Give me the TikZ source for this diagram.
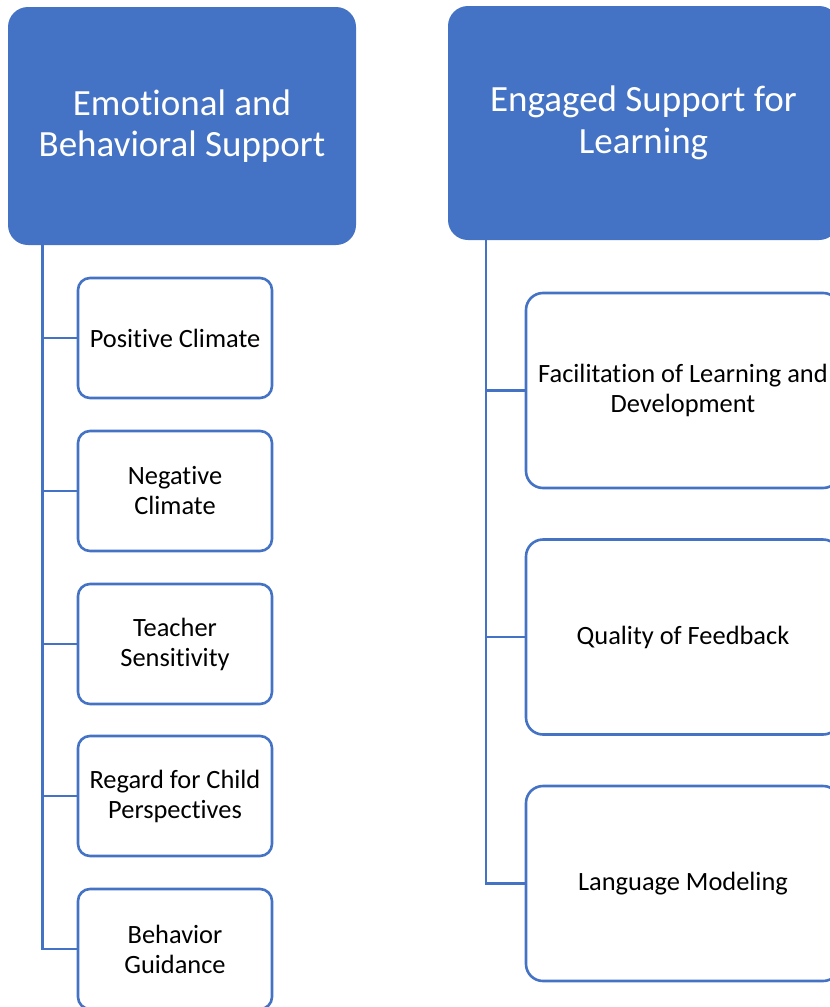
\documentclass[tikz,border=0pt]{standalone}
\usepackage{fontspec}
\setmainfont{Carlito}[RawFeature={-liga;-clig;-calt;-dlig}]
\usepackage{xcolor}
\usepackage{tikz}

\definecolor{smartblue}{HTML}{4472C4}

\begin{document}
\begin{tikzpicture}[x=1pt, y=-1pt,
		head/.style = {fill=smartblue, text=white, rounded corners=20pt, align=center, inner sep=0pt, outer sep=0pt, font=\fontsize{37}{41.5}\selectfont},
		item/.style = {draw=smartblue, line width=2.6pt, fill=white, align=center, inner sep=0pt, outer sep=0pt, font=\fontsize{26.4}{30}\selectfont},
		link/.style = {draw=smartblue, line width=2.2pt}]
		
		%page size
		\useasboundingbox (0,0) rectangle (830,1007);
		
		%variables
		\def\lw{194};
		\def\lh{120};
		\def\rw{314};
		\def\rh{195};
		
		%headers
		\node [head, minimum width=348, minimum height=238] (emo) at (182,126) {Emotional and\\Behavioral Support};
		\node [head, minimum width=391, minimum height=234] (eng) at (643.5,123) {Engaged Support for\\Learning};
		
		%trunks
		\coordinate (emoroot) at (42.5,245);
		\coordinate (engroot) at (486,240);
		
		%left items
		\node [item, rounded corners=12pt, minimum width=\lw, minimum height=\lh] (pc) at (175,338) {Positive Climate};
		\node [item, rounded corners=12pt, minimum width=\lw, minimum height=\lh] (nc) at (175,491) {Negative\\Climate};
		\node [item, rounded corners=12pt, minimum width=\lw, minimum height=\lh] (ts) at (175,644) {Teacher\\Sensitivity};
		\node [item, rounded corners=12pt, minimum width=\lw, minimum height=\lh] (rcp) at (175,796) {Regard for Child\\Perspectives};
		\node [item, rounded corners=12pt, minimum width=\lw, minimum height=\lh] (bg) at (175,949) {Behavior\\Guidance};
		
		%right items
		\node [item, rounded corners=17pt, minimum width=\rw, minimum height=\rh] (fld) at (683,390.5) {Facilitation of Learning and\\Development};
		\node [item, rounded corners=17pt, minimum width=\rw, minimum height=\rh] (qf) at (683,637) {Quality of Feedback};
		\node [item, rounded corners=17pt, minimum width=\rw, minimum height=\rh] (lm) at (683,883.5) {Language Modeling};
		
		%connectors
		\draw [link] (emoroot) |- (pc.west);
		\draw [link] (emoroot) |- (nc.west);
		\draw [link] (emoroot) |- (ts.west);
		\draw [link] (emoroot) |- (rcp.west);
		\draw [link] (emoroot) |- (bg.west);
		
		\draw [link] (engroot) |- (fld.west);
		\draw [link] (engroot) |- (qf.west);
		\draw [link] (engroot) |- (lm.west);

\end{tikzpicture}
\end{document}
